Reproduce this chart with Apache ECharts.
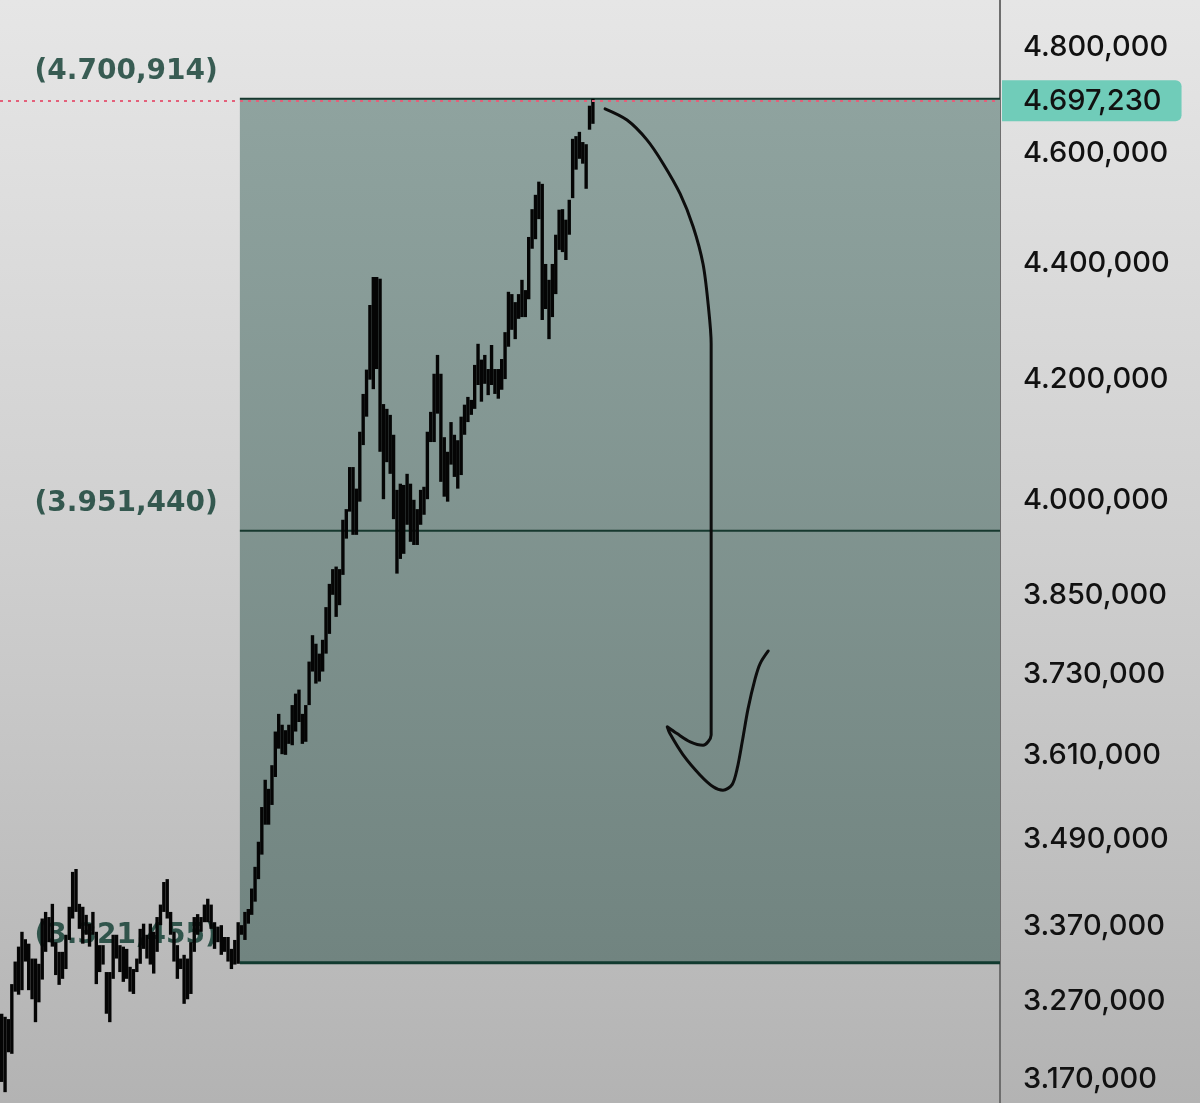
<!DOCTYPE html>
<html>
<head>
<meta charset="utf-8">
<script src="https://cdn.jsdelivr.net/npm/echarts@6/dist/echarts.min.js"></script>
<style>
html,body{margin:0;padding:0;background:#d0d0d0;}
#chart{width:1200px;height:1103px;}
</style>
</head>
<body>
<div id="chart"></div>
<script>
// ---- data ----
const highs = [3254000,3250000,3247000,3293000,3323000,3343000,3363000,3353000,3347000,3327000,
3327000,3320000,3381000,3390000,3383000,3401000,3349000,3336000,3336000,3359000,
3397000,3445000,3449000,3401000,3397000,3386000,3374000,3390000,3363000,3345000,
3345000,3309000,3309000,3359000,3359000,3345000,3343000,3340000,3316000,3313000,
3327000,3367000,3374000,3359000,3374000,3363000,3383000,3400000,3431000,3435000,
3390000,3363000,3345000,3327000,3332000,3327000,3349000,3383000,3387000,3383000,
3400000,3408000,3400000,3376000,3370000,3372000,3356000,3356000,3340000,3352000,
3376000,3372000,3390000,3394000,3422000,3452000,3487000,3536000,3575000,3562000,
3596000,3645000,3671000,3655000,3647000,3655000,3684000,3701000,3707000,3671000,
3684000,3749000,3789000,3776000,3761000,3782000,3832000,3868000,3891000,3895000,
3891000,3969000,3986000,4054000,4054000,4019000,4112000,4175000,4216000,4327000,
4376000,4376000,4373000,4158000,4150000,4140000,4107000,4017000,4027000,4025000,
4043000,4027000,4001000,3986000,4017000,4022000,4112000,4145000,4209000,4241000,
4209000,4103000,4079000,4128000,4107000,4098000,4137000,4157000,4170000,4165000,
4224000,4260000,4233000,4241000,4217000,4258000,4217000,4217000,4234000,4280000,
4350000,4346000,4332000,4346000,4371000,4353000,4447000,4497000,4523000,4547000,
4543000,4399000,4371000,4399000,4451000,4496000,4497000,4478000,4514000,4626000,
4631000,4639000,4620000,4616000,4688000,4700914];
const lows = [3166000,3153000,3204000,3202000,3283000,3279000,3285000,3323000,3285000,3273000,
3243000,3269000,3299000,3336000,3349000,3343000,3305000,3292000,3300000,3313000,
3352000,3381000,3390000,3367000,3347000,3359000,3343000,3359000,3293000,3309000,
3319000,3254000,3243000,3300000,3327000,3309000,3296000,3300000,3283000,3280000,
3309000,3320000,3340000,3327000,3319000,3307000,3336000,3372000,3390000,3381000,
3359000,3323000,3300000,3313000,3267000,3273000,3280000,3336000,3359000,3363000,
3376000,3376000,3367000,3340000,3349000,3332000,3336000,3323000,3313000,3319000,
3320000,3359000,3352000,3374000,3386000,3404000,3435000,3469000,3511000,3511000,
3539000,3579000,3620000,3612000,3611000,3627000,3625000,3645000,3659000,3627000,
3630000,3684000,3734000,3716000,3719000,3734000,3761000,3791000,3851000,3817000,
3835000,3882000,3939000,3982000,3945000,3945000,3998000,4090000,4137000,4199000,
4183000,4217000,4079000,4002000,4062000,4043000,3970000,3884000,3907000,3915000,
3961000,3934000,3929000,3929000,3961000,3977000,4002000,4095000,4095000,4142000,
4030000,4006000,3998000,4058000,4038000,4019000,4041000,4107000,4128000,4140000,
4150000,4190000,4162000,4192000,4173000,4190000,4175000,4167000,4182000,4200000,
4255000,4284000,4268000,4303000,4306000,4306000,4337000,4426000,4443000,4479000,
4301000,4320000,4268000,4306000,4346000,4424000,4420000,4406000,4451000,4517000,
4569000,4589000,4580000,4534000,4643000,4654000];

const lastPrice = 4697230;
const fibLevels = [4700914, 3951440, 3321455];
const fibStartBar = 70.5;
const fibEndBar = 295.5;
const yTicks = [4800000,4600000,4400000,4200000,4000000,3850000,3730000,3610000,3490000,3370000,3270000,3170000];

// hand drawn arrow, in (bar index, price)
const arrowX = [178.6,185.1,191.0,195.8,200.8,204.7,207.6,209.1,210.0,210.0,210.0,210.0,210.0,210.0,
  207.6,203.8,199.9,197.0,197.8,201.7,206.7,210.6,213.5,216.2,217.7,219.2,220.9,223.0,224.5,226.9];
const arrowY = [4682000,4661000,4624000,4580000,4525000,4465000,4399000,4329000,4260000,4162000,3998000,3840000,3689000,3640000,
  3625000,3630000,3642000,3652000,3642000,3611000,3582000,3565000,3560000,3568000,3591000,3630000,3678000,3723000,3746000,3765000];

// ---- helpers ----
function pad3(n){ return String(n).padStart(3,'0'); }
function fmt(v){
  v = Math.round(v);
  const m = Math.floor(v/1e6), k = Math.floor(v/1000)%1000, u = v%1000;
  return m + '.' + pad3(k) + ',' + pad3(u);
}

const FONT = 'Inter, "Noto Sans", sans-serif';
const chart = echarts.init(document.getElementById('chart'), null, {renderer:'canvas'});

const barData = highs.map((h,i)=>[i, h, lows[i]]);
const arrowData = arrowX.map((x,i)=>[x, arrowY[i]]);

const option = {
  animation: false,
  backgroundColor: new echarts.graphic.LinearGradient(0,0,0,1,[
    {offset:0,color:'#e6e6e6'},{offset:0.5,color:'#cfcfcf'},{offset:1,color:'#b3b3b3'}]),
  grid: {left:0, right:200, top:0, bottom:0, containLabel:false},
  xAxis: {type:'value', min:-0.5, max:fibEndBar, show:false},
  yAxis: {
    type:'log', logBase:10, position:'right',
    min: 3139282, max: 4891573,
    axisLine:{show:true, onZero:false, lineStyle:{color:'#6e6e6e', width:2}},
    axisTick:{show:false},
    splitLine:{show:false},
    axisLabel:{
      customValues: yTicks,
      formatter: v => fmt(v),
      margin: 23,
      color:'#111',
      fontSize: 29,
      fontFamily: FONT,
      fontWeight: 500
    }
  },
  series: [
    {
      type:'custom', z:1, silent:true,
      data:[[fibStartBar, fibEndBar, fibLevels[0], fibLevels[1], fibLevels[2]]],
      dimensions:['x0','x1','a','b','c'],
      encode:{x:[0,1], y:[2,3,4]},
      renderItem:(params, api)=>{
        const pTop = api.coord([api.value(0), api.value(2)]);
        const pEnd = api.coord([api.value(1), api.value(4)]);
        const pMid = api.coord([api.value(0), api.value(3)]);
        const x0 = pTop[0], x1 = pEnd[0];
        const lineStyle = {stroke:'#17392f', lineWidth:2};
        return {type:'group', children:[
          {type:'rect', shape:{x:x0, y:pTop[1], width:x1-x0, height:pEnd[1]-pTop[1]},
           style:{fill:new echarts.graphic.LinearGradient(0,0,0,1,[
             {offset:0,color:'#8fa39f'},{offset:1,color:'#718480'}])}},
          {type:'line', shape:{x1:x0, y1:pTop[1], x2:x1, y2:pTop[1]}, style:lineStyle},
          {type:'line', shape:{x1:x0, y1:pMid[1], x2:x1, y2:pMid[1]}, style:lineStyle},
          {type:'line', shape:{x1:x0, y1:pEnd[1], x2:x1, y2:pEnd[1]}, style:{stroke:'#113a2f', lineWidth:3}}
        ]};
      }
    },
    {
      type:'scatter', z:2, silent:true,
      symbolSize:0.1,
      itemStyle:{color:'rgba(0,0,0,0)'},
      data: fibLevels.map(v=>[fibStartBar, v]),
      label:{
        show:true, position:'left', distance:22, offset:[0,-27],
        formatter: p => '(' + fmt(p.value[1]) + ')',
        color:'#0c3a2e', fontSize:28, fontWeight:'bold', fontFamily:'"DejaVu Sans", sans-serif'
      }
    },
    {
      type:'custom', z:3, silent:true,
      data: barData,
      encode:{x:0, y:[1,2]},
      renderItem:(params, api)=>{
        const hi = api.coord([api.value(0), api.value(1)]);
        const lo = api.coord([api.value(0), api.value(2)]);
        const w = api.size([1,0])[0]*1.0;
        return {type:'rect', shape:{x:hi[0]-w/2, y:hi[1], width:w, height:Math.max(1, lo[1]-hi[1])},
                style:{fill:'#050505'}};
      }
    },
    {
      type:'line', z:4, silent:true,
      data: arrowData,
      smooth: 0.3,
      symbol:'none',
      lineStyle:{color:'#0d0d0d', width:3, cap:'round', join:'round'},
      markLine:{
        silent:true,
        symbol:['none','none'],
        data:[{yAxis:lastPrice}],
        lineStyle:{type:[3,5], color:'#e4607a', width:2},
        label:{
          show:true, position:'end', distance:2,
          formatter: () => fmt(lastPrice),
          color:'#111', fontSize:29, fontWeight:500, fontFamily:FONT,
          backgroundColor:'#70ccb9',
          padding:[6,20,6,21],
          borderRadius:[0,6,6,0]
        }
      }
    }
  ]
};
chart.setOption(option);
</script>
</body>
</html>
